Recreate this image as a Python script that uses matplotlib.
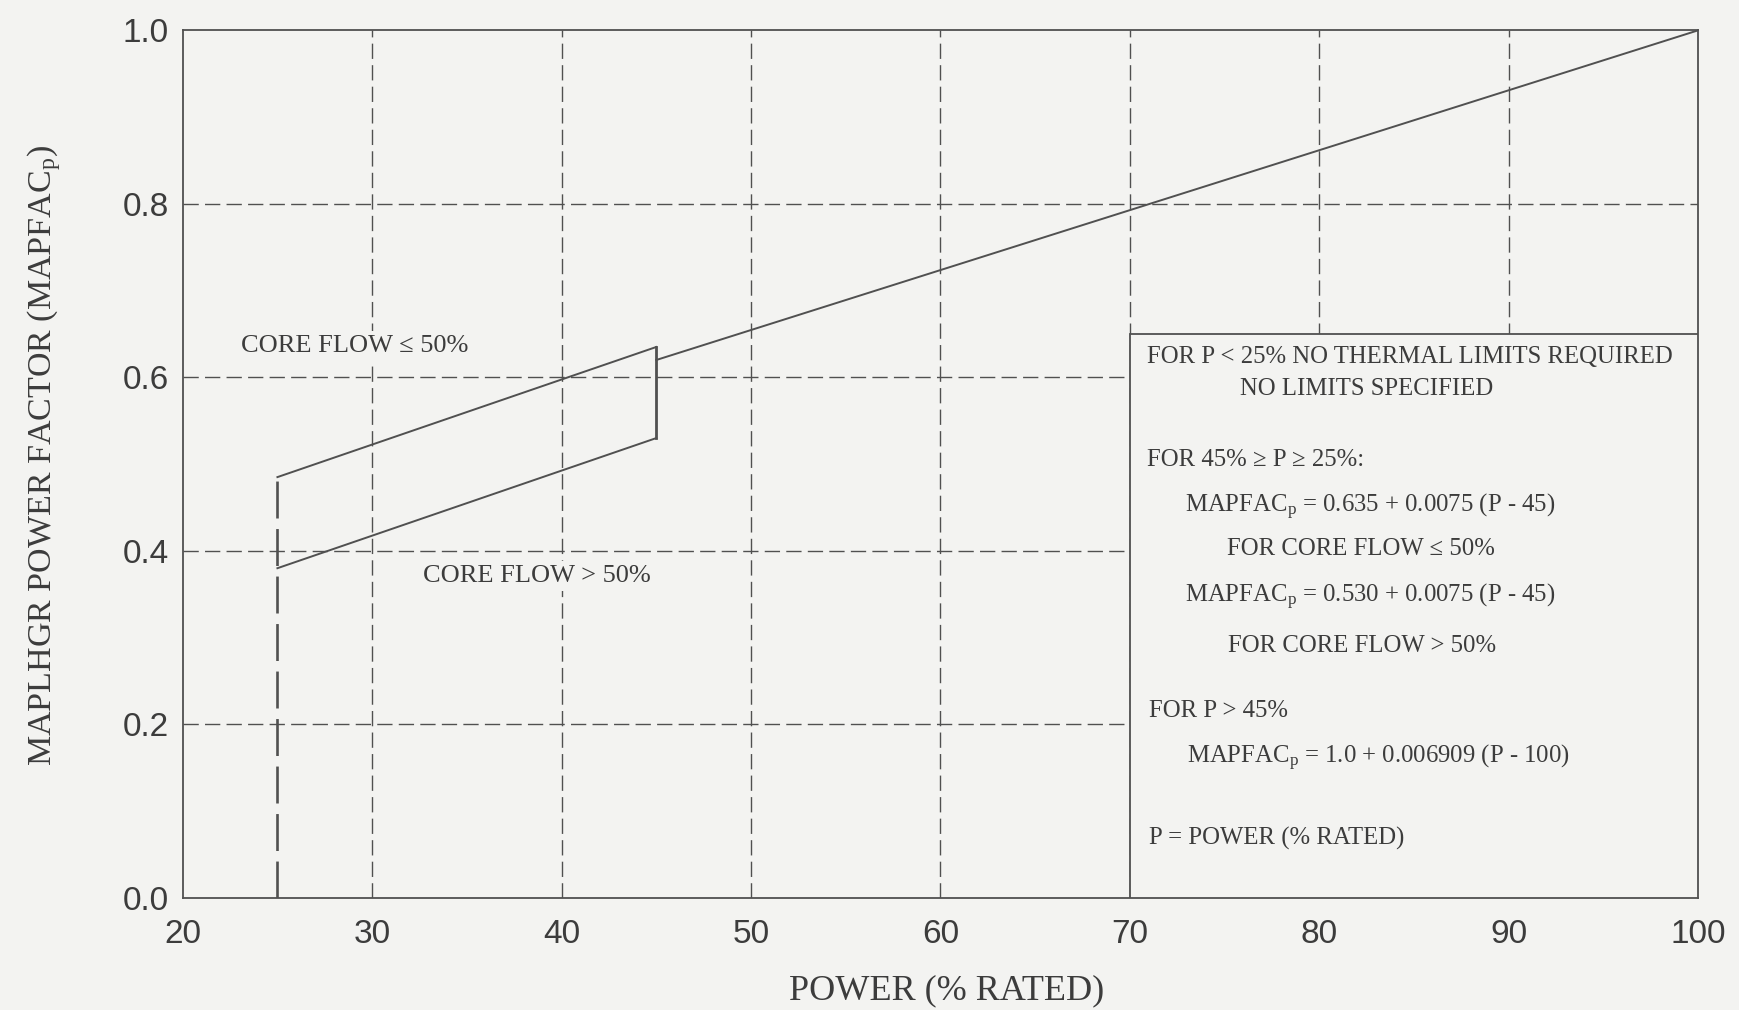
import matplotlib
matplotlib.use("Agg")
import matplotlib.pyplot as plt
from matplotlib.patches import Rectangle

# MAPLHGR power-dependent factor vs. core power
low_power = [25, 45]
factor_flow_low = [0.485, 0.635]    # core flow <= 50%
factor_flow_high = [0.380, 0.530]   # core flow > 50%
high_power = [45, 100]
factor_high = [0.620, 1.0]

x_ticks = [20, 30, 40, 50, 60, 70, 80, 90, 100]
y_ticks = [0.0, 0.2, 0.4, 0.6, 0.8, 1.0]
x_grid = [30, 40, 50, 60, 70, 80, 90]
y_grid = [0.2, 0.4, 0.6, 0.8]

note_lines = [
    (70.9, 0.624, "FOR P < 25% NO THERMAL LIMITS REQUIRED"),
    (75.8, 0.586, "NO LIMITS SPECIFIED"),
    (70.9, 0.505, "FOR 45% \u2265 P \u2265 25%:"),
    (72.9, 0.451, "MAPFAC$_\\mathrm{p}$ = 0.635 + 0.0075 (P - 45)"),
    (75.1, 0.402, "FOR CORE FLOW \u2264 50%"),
    (72.9, 0.347, "MAPFAC$_\\mathrm{p}$ = 0.530 + 0.0075 (P - 45)"),
    (75.2, 0.290, "FOR CORE FLOW > 50%"),
    (71.0, 0.215, "FOR P > 45%"),
    (73.0, 0.161, "MAPFAC$_\\mathrm{p}$ = 1.0 + 0.006909 (P - 100)"),
    (71.0, 0.068, "P = POWER (% RATED)"),
]

paper = "#f3f3f1"
ink = "#3c3c3c"
line_col = "#505050"

plt.rcParams["mathtext.fontset"] = "custom"
plt.rcParams["mathtext.rm"] = "Liberation Serif"
plt.rcParams["mathtext.it"] = "Liberation Serif:italic"

fig = plt.figure(figsize=(17.4, 10.1), dpi=100, facecolor=paper)
ax = fig.add_axes([0.105, 0.111, 0.871, 0.859], facecolor=paper)

ax.set_xlim(20, 100)
ax.set_ylim(0, 1.0)

# dashed grid
for gx in x_grid:
    ax.plot([gx, gx], [0, 1.0], color=line_col, lw=1.0,
            linestyle=(0, (11, 4.5)), zorder=1)
for gy in y_grid:
    ax.plot([20, 100], [gy, gy], color=line_col, lw=1.0,
            linestyle=(0, (11, 4.5)), zorder=1)

# limit curves
ax.plot(low_power, factor_flow_low, color=line_col, lw=1.4, zorder=3)
ax.plot(low_power, factor_flow_high, color=line_col, lw=1.4, zorder=3)
ax.plot(high_power, factor_high, color=line_col, lw=1.4, zorder=3)
ax.plot([low_power[1], low_power[1]], [factor_flow_high[1], factor_flow_low[1]],
        color=line_col, lw=2.0, zorder=3)
ax.plot([low_power[0], low_power[0]], [0, factor_flow_low[0]],
        color=line_col, lw=1.9, linestyle=(0, (14, 4)), zorder=3)

# note box in the lower right corner
ax.add_patch(Rectangle((70, 0), 30, 0.65, facecolor=paper, edgecolor=line_col,
                       lw=1.3, zorder=4))
for x, y, s in note_lines:
    ax.text(x, y, s, fontsize=17.8, family="Liberation Serif", color=ink,
            ha="left", va="center", zorder=5)

label_box = dict(facecolor=paper, edgecolor="none", pad=3)
ax.text(23.1, 0.636, "CORE FLOW \u2264 50%", fontsize=19, family="Liberation Serif",
        color=ink, ha="left", va="center", bbox=label_box, zorder=5)
ax.text(32.7, 0.371, "CORE FLOW > 50%", fontsize=19, family="Liberation Serif",
        color=ink, ha="left", va="center", bbox=label_box, zorder=5)

for side in ax.spines.values():
    side.set_color(line_col)
    side.set_linewidth(1.3)

ax.set_xticks(x_ticks)
ax.set_yticks(y_ticks)
ax.set_xticklabels([str(v) for v in x_ticks])
ax.set_yticklabels([f"{v:.1f}" for v in y_ticks])
ax.tick_params(length=0, labelsize=24, labelcolor=ink)
ax.tick_params(axis="x", pad=15)
ax.tick_params(axis="y", pad=10)
for lab in ax.get_xticklabels() + ax.get_yticklabels():
    lab.set_family("Liberation Sans")

ax.set_xlabel("POWER (% RATED)", fontsize=26, family="Liberation Serif", color=ink)
ax.set_ylabel("MAPLHGR POWER FACTOR (MAPFAC$_\\mathrm{p}$)", fontsize=24.5,
              family="Liberation Serif", color=ink)
ax.xaxis.set_label_coords(0.504, -0.088)
ax.yaxis.set_label_coords(-0.079, 0.51)

fig.savefig("out.png", dpi=100, facecolor=paper)
